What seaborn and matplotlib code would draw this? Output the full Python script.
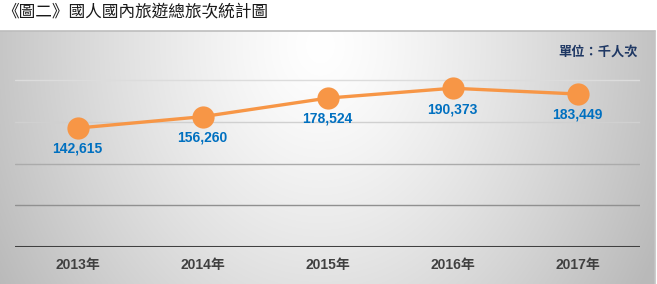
import numpy as np
import pandas as pd
import matplotlib
matplotlib.use("Agg")
import matplotlib.pyplot as plt
import seaborn as sns

years = ["2013年", "2014年", "2015年", "2016年", "2017年"]
trips = [142615, 156260, 178524, 190373, 183449]
y_ticks = [0, 50000, 100000, 150000, 200000]
title = "《圖二》國人國內旅遊總旅次統計圖"
unit = "單位：千人次"

sns.set_theme(style="white")
plt.rcParams['font.family'] = ['Liberation Sans', 'Noto Sans CJK TC', 'DejaVu Sans']

W, H = 657, 284
fig = plt.figure(figsize=(W / 100, H / 100), dpi=100)
fig.patch.set_facecolor("white")

# gradient background box
bx0, by0, bx1, by1 = 0, 31, 655, 284
bg = fig.add_axes([bx0 / W, 1 - by1 / H, (bx1 - bx0) / W, (by1 - by0) / H])
gx, gy = np.meshgrid(np.arange(bx0, bx1), np.arange(by0, by1))
r = np.sqrt(((gx - 320) / 340.0) ** 2 + ((gy - 45) / 420.0) ** 2)
v = 1.0 - 0.24 * np.clip(r, 0, 1.1) ** 1.3
img = np.dstack([v, v, v])
bg.imshow(img, aspect="auto", extent=[0, 1, 0, 1], origin="upper")
bg.set_xlim(0, 1)
bg.set_ylim(0, 1)
bg.axis("off")
fig.add_artist(plt.Line2D([0, bx1 / W], [1 - by0 / H, 1 - by0 / H], color="#bdbdbd", lw=1.2))
fig.add_artist(plt.Line2D([bx1 / W, bx1 / W], [0, 1 - by0 / H], color="#c4c4c4", lw=1.2))

# plot axes
left, right, top, bottom = 15, 640, 38.5, 247
ax = fig.add_axes([left / W, 1 - bottom / H, (right - left) / W, (bottom - top) / H])
ax.patch.set_alpha(0)

df = pd.DataFrame({"x": np.arange(len(years)), "y": trips})
grid_colors = ["#404040", "#909090", "#ababab", "#d0d0d0", "#dcdcdc"]
for t, c in zip(y_ticks, grid_colors):
    if t == 0:
        continue
    ax.axhline(t, color=c, lw=1.0, zorder=0)
ax.axhline(0, color="#404040", lw=2.2, zorder=1)

sns.lineplot(data=df, x="x", y="y", ax=ax, color="#F79646", lw=2.4,
             marker="o", markersize=16, markeredgewidth=0, zorder=3)

for xi, yi in zip(df["x"], df["y"]):
    ax.annotate(f"{yi:,}", (xi, yi), xytext=(0, -15), textcoords="offset points",
                ha="center", va="center", color="#0070C0", fontsize=10,
                fontweight="bold", zorder=4)

ax.set_xlim(-0.5, len(years) - 0.5)
ax.set_ylim(0, 250000)
ax.set_xticks(df["x"])
ax.set_xticklabels(years, fontsize=10, fontweight="bold", color="#404040")
ax.tick_params(axis="x", length=0, pad=8)
ax.set_yticks([])
ax.set_xlabel("")
ax.set_ylabel("")
for s in ax.spines.values():
    s.set_visible(False)

fig.text(2 / W, 1 - 13 / H, title, ha="left", va="center", fontsize=12,
         family=['Noto Sans CJK TC', 'DejaVu Sans'], color="#1a1a1a")
fig.text(638 / W, 1 - 52 / H, unit, ha="right", va="center", fontsize=9.5,
         family=['Noto Sans CJK TC', 'DejaVu Sans'], color="#1F3864", fontweight="bold")

fig.savefig("out.png", dpi=100)
